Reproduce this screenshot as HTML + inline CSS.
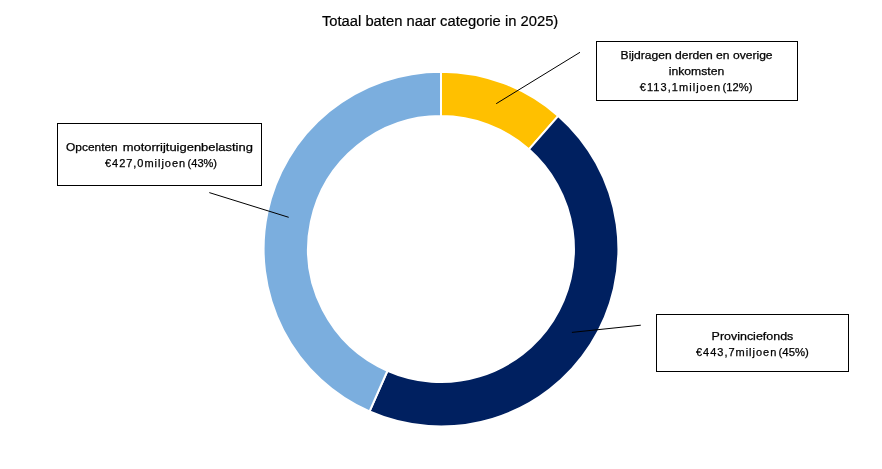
<!DOCTYPE html>
<html lang="nl">
<head>
<meta charset="utf-8">
<title>Totaal baten naar categorie in 2025</title>
<style>
html,body{margin:0;padding:0;background:#fff;}
body{width:882px;height:469px;overflow:hidden;}
svg{display:block;}
.t{font-family:"Liberation Sans",sans-serif;font-size:14.9px;fill:#000;stroke:#000;stroke-width:0.2px;}
.l{font-family:"Liberation Sans",sans-serif;font-size:11px;fill:#000;stroke:#000;stroke-width:0.25px;}
.b{fill:#fff;stroke:#000;stroke-width:1;shape-rendering:crispEdges;}
.ln{stroke:#000;stroke-width:1;fill:none;}
</style>
</head>
<body>
<svg xmlns="http://www.w3.org/2000/svg" width="882" height="469" viewBox="0 0 882 469">
<rect x="0" y="0" width="882" height="469" fill="#fff"/>
<text class="t" x="321.9" y="25.9" textLength="236.4" lengthAdjust="spacingAndGlyphs">Totaal baten naar categorie in 2025)</text>
<path d="M441.00 71.65A177.4 177.4 0 0 1 558.29 115.95L528.90 149.30A132.95 132.95 0 0 0 441.00 116.10Z" fill="#FFC000" stroke="#fff" stroke-width="2" stroke-linejoin="round"/>
<path d="M558.29 115.95A177.4 177.4 0 0 1 369.56 411.43L387.46 370.74A132.95 132.95 0 0 0 528.90 149.30Z" fill="#002060" stroke="#fff" stroke-width="2" stroke-linejoin="round"/>
<path d="M369.56 411.43A177.4 177.4 0 0 1 441.00 71.65L441.00 116.10A132.95 132.95 0 0 0 387.46 370.74Z" fill="#7BAEDE" stroke="#fff" stroke-width="2" stroke-linejoin="round"/>
<line class="ln" x1="580" y1="52.3" x2="496.2" y2="103.7"/>
<line class="ln" x1="209.3" y1="192.6" x2="288.7" y2="217.3"/>
<line class="ln" x1="640.8" y1="325.2" x2="571.9" y2="332.4"/>
<rect class="b" x="596.5" y="41.5" width="201" height="59"/>
<text class="l" x="620.6" y="58.9" textLength="152" lengthAdjust="spacingAndGlyphs">Bijdragen derden en overige</text>
<text class="l" x="668.7" y="75" textLength="55.6" lengthAdjust="spacingAndGlyphs">inkomsten</text>
<text class="l" y="91.1"><tspan x="639.8" textLength="80.3" lengthAdjust="spacing">€113,1miljoen</tspan> <tspan x="722.6" textLength="29.8" lengthAdjust="spacingAndGlyphs">(12%)</tspan></text>
<rect class="b" x="57.5" y="123.5" width="204" height="62"/>
<text class="l" y="150.8"><tspan x="66.1" textLength="51.6" lengthAdjust="spacingAndGlyphs">Opcenten</tspan> <tspan x="122.7" textLength="130.2" lengthAdjust="spacingAndGlyphs">motorrijtuigenbelasting</tspan></text>
<text class="l" y="166.9"><tspan x="105" textLength="80.1" lengthAdjust="spacing">€427,0miljoen</tspan> <tspan x="187.6" textLength="29.4" lengthAdjust="spacingAndGlyphs">(43%)</tspan></text>
<rect class="b" x="656.5" y="314.5" width="192" height="57"/>
<text class="l" x="711.6" y="339.7" textLength="81.7" lengthAdjust="spacingAndGlyphs">Provinciefonds</text>
<text class="l" y="356"><tspan x="696" textLength="80.3" lengthAdjust="spacing">€443,7miljoen</tspan> <tspan x="778.6" textLength="30.2" lengthAdjust="spacingAndGlyphs">(45%)</tspan></text>
</svg>
</body>
</html>
